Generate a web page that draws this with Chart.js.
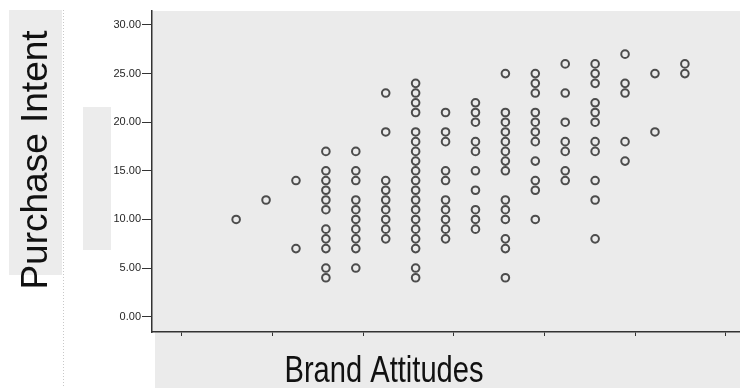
<!DOCTYPE html>
<html>
<head>
<meta charset="utf-8">
<script src="https://cdn.jsdelivr.net/npm/chart.js@4/dist/chart.umd.min.js"></script>
<style>
  html, body { margin: 0; padding: 0; background: #ffffff; overflow: hidden; }
  #wrap { position: relative; width: 740px; height: 388px; }
  canvas { display: block; }
</style>
</head>
<body>
<div id="wrap"><canvas id="chart" width="740" height="388"></canvas></div>
<script>
// Brand attitude score for each column of observations
const brandAttitudes = [1.60, 1.93, 2.26, 2.59, 2.92, 3.25, 3.58, 3.91, 4.24, 4.57, 4.90, 5.23, 5.56, 5.89, 6.22, 6.55];

// Purchase intent scores observed at each brand attitude score
const purchaseIntent = [
  [10],
  [12],
  [14, 7],
  [17, 15, 14, 13, 12, 11, 9, 8, 7, 5, 4],
  [17, 15, 14, 12, 11, 10, 9, 8, 7, 5],
  [23, 19, 14, 13, 12, 11, 10, 9, 8],
  [24, 23, 22, 21, 19, 18, 17, 16, 15, 14, 13, 12, 11, 10, 9, 8, 7, 5, 4],
  [21, 19, 18, 15, 14, 12, 11, 10, 9, 8],
  [22, 21, 20, 18, 17, 15, 13, 11, 10, 9],
  [25, 21, 20, 19, 18, 17, 16, 15, 12, 11, 10, 8, 7, 4],
  [25, 24, 23, 21, 20, 19, 18, 16, 14, 13, 10],
  [26, 23, 20, 18, 17, 15, 14],
  [26, 25, 24, 22, 21, 20, 18, 17, 14, 12, 8],
  [27, 24, 23, 18, 16],
  [25, 19],
  [26, 25]
];

// Axis ticks
const xTickValues = [1, 2, 3, 4, 5, 6, 7];
const yTickValues = [0, 5, 10, 15, 20, 25, 30];

// Axis titles
const xTitle = 'Brand Attitudes';
const yTitle = 'Purchase Intent';

const points = [];
brandAttitudes.forEach((x, i) => {
  purchaseIntent[i].forEach(y => points.push({ x: x, y: y }));
});

const PANEL = '#ebebeb';
const INK = '#333333';

// Gray panels, dotted separator and the two axis titles
const decor = {
  id: 'decor',
  beforeDraw(chart) {
    const ctx = chart.ctx;
    const a = chart.chartArea;
    ctx.save();
    ctx.fillStyle = PANEL;
    ctx.fillRect(a.left, a.top, chart.width - a.left, a.bottom - a.top);
    ctx.fillRect(a.left + 3, a.bottom, chart.width - a.left - 3, chart.height - a.bottom);
    ctx.fillStyle = '#ececec';
    ctx.fillRect(9, 10, 53, 265);
    ctx.fillRect(83, 107, 28, 143);
    // dotted separator
    ctx.strokeStyle = '#c8c8c8';
    ctx.lineWidth = 1;
    ctx.setLineDash([1, 2]);
    ctx.beginPath();
    ctx.moveTo(63.5, 10);
    ctx.lineTo(63.5, chart.height);
    ctx.stroke();
    ctx.restore();
  },
  afterDraw(chart) {
    const ctx = chart.ctx;
    ctx.save();
    ctx.fillStyle = '#111111';
    // y title, reading bottom to top
    ctx.translate(47, 160);
    ctx.rotate(-Math.PI / 2);
    ctx.font = '37px "Liberation Sans", Arial, sans-serif';
    ctx.textAlign = 'center';
    ctx.textBaseline = 'alphabetic';
    ctx.fillText(yTitle, 0, 0);
    ctx.restore();

    // x title in a condensed face
    ctx.save();
    ctx.fillStyle = '#111111';
    ctx.font = '36px "Liberation Sans", Arial, sans-serif';
    ctx.textAlign = 'center';
    ctx.textBaseline = 'alphabetic';
    const w = ctx.measureText(xTitle).width;
    ctx.translate(384, 382);
    ctx.scale(199 / w, 1);
    ctx.fillText(xTitle, 0, 0);
    ctx.restore();
  }
};

new Chart(document.getElementById('chart'), {
  type: 'scatter',
  data: {
    datasets: [{
      data: points,
      pointStyle: 'circle',
      pointRadius: 3.8,
      pointHoverRadius: 3.8,
      pointBorderWidth: 2,
      pointBorderColor: 'rgba(48,48,48,0.85)',
      pointBackgroundColor: 'rgba(0,0,0,0)'
    }]
  },
  options: {
    responsive: false,
    animation: false,
    events: [],
    layout: { autoPadding: false, padding: { left: 0, top: 11, right: 0, bottom: 0 } },
    plugins: {
      legend: { display: false },
      tooltip: { enabled: false }
    },
    scales: {
      x: {
        type: 'linear',
        min: 0.672,
        max: 7.158,
        afterBuildTicks: s => { s.ticks = xTickValues.map(v => ({ value: v })); },
        afterFit: s => { s.height = 56; },
        border: { display: true, color: INK, width: 1.5 },
        grid: { drawOnChartArea: false, drawTicks: true, tickLength: 4, color: INK, lineWidth: 1 },
        ticks: { display: false }
      },
      y: {
        type: 'linear',
        min: -1.58,
        max: 31.44,
        afterBuildTicks: s => { s.ticks = yTickValues.map(v => ({ value: v })); },
        afterFit: s => { s.width = 152; },
        border: { display: true, color: INK, width: 1.5 },
        grid: { drawOnChartArea: false, drawTicks: true, tickLength: 10, color: INK, lineWidth: 1 },
        ticks: {
          padding: 1,
          color: '#262626',
          font: { family: '"Liberation Sans", Arial, sans-serif', size: 11 },
          callback: v => Number(v).toFixed(2)
        }
      }
    }
  },
  plugins: [decor]
});
</script>
</body>
</html>
